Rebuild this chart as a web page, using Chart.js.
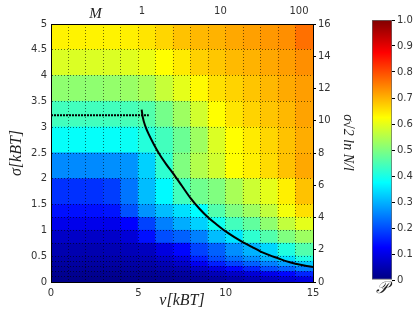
<!DOCTYPE html>
<html><head><meta charset="utf-8">
<script src="https://cdn.jsdelivr.net/npm/chart.js@4"></script>
<style>
html,body{margin:0;padding:0;background:#fff;width:415px;height:313px;overflow:hidden}
#main{position:absolute;left:0;top:0;}
#cb{position:absolute;left:355px;top:0;}
</style></head><body>
<canvas id="main" width="370" height="313"></canvas>
<canvas id="cb" width="60" height="313"></canvas>
<script>
// v bins (x) and sigma bins (y)
const vEdges = [0,1,2,3,4,5,6,7,8,9,10,11,12,13,14,15];
const sigmaEdges = [0,0.1,0.2,0.3,0.4,0.5,0.75,1,1.25,1.5,2,2.5,3,3.5,4,4.5,5];
// P values per sigma row (bottom to top), one value per v column
const pRow00 = [0.012,0.012,0.012,0.012,0.013,0.015,0.018,0.022,0.028,0.035,0.045,0.055,0.065,0.08,0.095];
const pRow01 = [0.016,0.016,0.016,0.017,0.018,0.02,0.024,0.03,0.04,0.055,0.07,0.086,0.105,0.13,0.16];
const pRow02 = [0.025,0.025,0.025,0.026,0.028,0.032,0.04,0.048,0.07,0.095,0.13,0.16,0.2,0.22,0.25];
const pRow03 = [0.032,0.032,0.032,0.034,0.036,0.04,0.05,0.07,0.11,0.155,0.19,0.22,0.25,0.28,0.32];
const pRow04 = [0.04,0.04,0.04,0.042,0.045,0.05,0.07,0.095,0.155,0.2,0.235,0.265,0.3,0.345,0.405];
const pRow05 = [0.048,0.048,0.048,0.05,0.055,0.063,0.095,0.13,0.19,0.22,0.265,0.3,0.335,0.405,0.455];
const pRow06 = [0.07,0.07,0.07,0.072,0.086,0.14,0.2,0.22,0.25,0.31,0.35,0.42,0.455,0.5,0.53];
const pRow07 = [0.105,0.105,0.105,0.105,0.125,0.19,0.25,0.295,0.33,0.39,0.44,0.47,0.515,0.565,0.6];
const pRow08 = [0.14,0.14,0.14,0.145,0.205,0.27,0.31,0.345,0.375,0.455,0.5,0.53,0.565,0.615,0.655];
const pRow09 = [0.172,0.172,0.172,0.185,0.24,0.31,0.37,0.44,0.485,0.5,0.54,0.575,0.6,0.64,0.685];
const pRow10 = [0.26,0.26,0.26,0.265,0.27,0.33,0.42,0.5,0.55,0.58,0.625,0.64,0.66,0.685,0.71];
const pRow11 = [0.38,0.38,0.38,0.38,0.385,0.41,0.44,0.48,0.53,0.59,0.625,0.645,0.665,0.685,0.705];
const pRow12 = [0.44,0.44,0.44,0.44,0.445,0.455,0.49,0.53,0.58,0.625,0.65,0.668,0.682,0.695,0.715];
const pRow13 = [0.515,0.515,0.515,0.52,0.525,0.54,0.57,0.6,0.63,0.655,0.668,0.682,0.695,0.708,0.72];
const pRow14 = [0.59,0.59,0.59,0.59,0.595,0.605,0.625,0.645,0.67,0.68,0.693,0.7,0.71,0.72,0.735];
const pRow15 = [0.637,0.637,0.637,0.637,0.64,0.65,0.665,0.685,0.695,0.7,0.71,0.718,0.726,0.735,0.765];
const pRows = [pRow00,pRow01,pRow02,pRow03,pRow04,pRow05,pRow06,pRow07,pRow08,pRow09,pRow10,pRow11,pRow12,pRow13,pRow14,pRow15];
// black curve
const curveV = [5.19,5.25,5.4,5.6,5.9,6.2,6.6,7.0,7.5,8.0,8.5,9.0,9.5,10.0,10.5,11.0,11.5,12.0,12.5,13.0,13.5,14.0,14.5,15.0];
const curveSigma = [3.34,3.2,3.02,2.86,2.66,2.48,2.28,2.1,1.86,1.62,1.42,1.25,1.11,0.98,0.87,0.77,0.68,0.59,0.52,0.46,0.40,0.355,0.32,0.29];
// dotted threshold line
const cutV = [0, 5.6];
const cutSigma = [3.23, 3.23];
// tick labels
const mTicks = [1, 10, 100];
const vLabelTicks = [0, 5, 10, 15];
const sigmaLabelTicks = [0,0.5,1,1.5,2,2.5,3,3.5,4,4.5,5];
const rightTicks = [0,2,4,6,8,10,12,14,16];
const cbRange = [0, 1];

function clamp(x){return Math.max(0,Math.min(1,x));}
function jet(v){
  const r=clamp(1.5-Math.abs(4*v-3)), g=clamp(1.5-Math.abs(4*v-2)), b=clamp(1.5-Math.abs(4*v-1));
  return 'rgb('+Math.round(r*255)+','+Math.round(g*255)+','+Math.round(b*255)+')';
}

const tickFont = {family:'DejaVu Sans', size:10};
const tickColor = '#333';
const gridColor = 'rgba(0,0,0,0.55)';
const titleFont = {family:'Liberation Serif', size:16, style:'italic'};

const heatSets = pRows.map((row, r) => ({
  type:'bar', order:3, xAxisID:'x', yAxisID:'y',
  data: row.map((p,i)=>({x:(vEdges[i]+vEdges[i+1])/2, y:[sigmaEdges[r], sigmaEdges[r+1]]})),
  backgroundColor: row.map(jet), borderWidth:0, grouped:false,
  barPercentage:1, categoryPercentage:1, inflateAmount:0.5
}));

const lineSets = [
  {type:'line', order:0, xAxisID:'x', yAxisID:'y',
   data: curveV.map((v,i)=>({x:v, y:curveSigma[i]})),
   borderColor:'#000', borderWidth:2, pointRadius:0, cubicInterpolationMode:'monotone', fill:false},
  {type:'line', order:0, xAxisID:'x', yAxisID:'y',
   data: cutV.map((v,i)=>({x:v, y:cutSigma[i]})),
   borderColor:'#000', borderWidth:2, borderDash:[2,1], pointRadius:0, fill:false}
];

const mLabel = {
  id:'mLabel',
  afterDraw(chart){
    const c = chart.ctx, xs = chart.scales.x;
    c.save();
    c.font = 'italic 15px "Liberation Serif"';
    c.fillStyle = '#222';
    c.textAlign = 'center'; c.textBaseline = 'middle';
    c.fillText('M', xs.getPixelForValue(2.55), 14);
    c.restore();
  }
};

new Chart(document.getElementById('main'), {
  type:'bar',
  data:{datasets:[...lineSets, ...heatSets]},
  plugins:[mLabel],
  options:{
    responsive:false, animation:false,
    layout:{padding:0},
    plugins:{legend:{display:false}, tooltip:{enabled:false}},
    scales:{
      x:{type:'linear', position:'bottom', min:0, max:15, offset:false,
        afterBuildTicks: s => { s.ticks = vEdges.map(v=>({value:v})); },
        ticks:{autoSkip:false, maxRotation:0, padding:5, color:tickColor, font:tickFont,
          callback: v => vLabelTicks.includes(v) ? String(v) : ''},
        grid:{offset:false, drawTicks:false, color:gridColor, lineWidth:1, z:1},
        border:{display:true, color:'#000', width:1, dash:[1,2], z:1},
        title:{display:true, text:'v[kBT]', color:'#222', font:titleFont, padding:{top:0,bottom:3}},
        afterFit: s => { s.height = 31; }
      },
      x2:{type:'logarithmic', position:'top', min:0.0698, max:150.7,
        afterBuildTicks: s => { s.ticks = mTicks.map(v=>({value:v})); },
        ticks:{autoSkip:false, maxRotation:0, padding:7, color:tickColor, font:tickFont, callback: v => String(v)},
        grid:{drawOnChartArea:false, drawTicks:false},
        border:{display:true, color:'#000', width:1, z:1},
        afterFit: s => { s.height = 24; }
      },
      y:{type:'linear', position:'left', min:0, max:5,
        afterBuildTicks: s => { s.ticks = sigmaEdges.map(v=>({value:v})); },
        ticks:{autoSkip:false, padding:4, color:tickColor, font:tickFont,
          callback: v => sigmaLabelTicks.includes(v) ? String(v) : ''},
        grid:{drawTicks:false, color:gridColor, lineWidth:1, z:1},
        border:{display:true, color:'#000', width:1, dash:[1,2], z:1},
        title:{display:true, text:'σ[kBT]', color:'#222', font:titleFont, padding:{top:7}},
        afterFit: s => { s.width = 51; }
      },
      y2:{type:'linear', position:'right', min:0, max:16,
        afterBuildTicks: s => { s.ticks = rightTicks.map(v=>({value:v})); },
        ticks:{autoSkip:false, padding:2, color:tickColor, font:tickFont},
        grid:{drawOnChartArea:false, drawTicks:true, tickLength:3, tickColor:'#000'},
        border:{display:true, color:'#000', width:1, z:1},
        title:{display:true, text:'σ√2 ln N/l      ', color:'#222', font:{family:'Liberation Serif', size:14, style:'italic'}, padding:{top:14}},
        afterFit: s => { s.width = 57; }
      }
    }
  }
});

const cbStops = [0, 0.125, 0.375, 0.625, 0.875, 1];
new Chart(document.getElementById('cb'), {
  type:'bar',
  data:{labels:[''], datasets:[{
    data:[cbRange],
    backgroundColor: ctx => {
      const ca = ctx.chart.chartArea; if (!ca) return '#000';
      const g = ctx.chart.ctx.createLinearGradient(0, ca.bottom, 0, ca.top);
      cbStops.forEach(s => g.addColorStop(s, jet(s)));
      return g;
    },
    borderColor:'#666', borderWidth:1, borderSkipped:false,
    barPercentage:1, categoryPercentage:1
  }]},
  options:{
    responsive:false, animation:false,
    layout:{padding:{left:17, top:20, right:0, bottom:0}},
    plugins:{legend:{display:false}, tooltip:{enabled:false}},
    scales:{
      x:{display:true, ticks:{display:false}, grid:{display:false}, border:{display:false},
        title:{display:true, text:'𝒫', color:'#222', font:{family:'DejaVu Serif', size:17, style:'italic'}, padding:{top:0,bottom:14}},
        afterFit: s => { s.height = 33; }
      },
      y:{position:'right', min:0, max:1,
        ticks:{stepSize:0.1, padding:2, color:tickColor, font:tickFont},
        grid:{drawOnChartArea:false, drawTicks:true, tickLength:3, tickColor:'#000'},
        border:{display:false},
        afterFit: s => { s.width = 23; }
      }
    }
  }
});
</script>
</body></html>
